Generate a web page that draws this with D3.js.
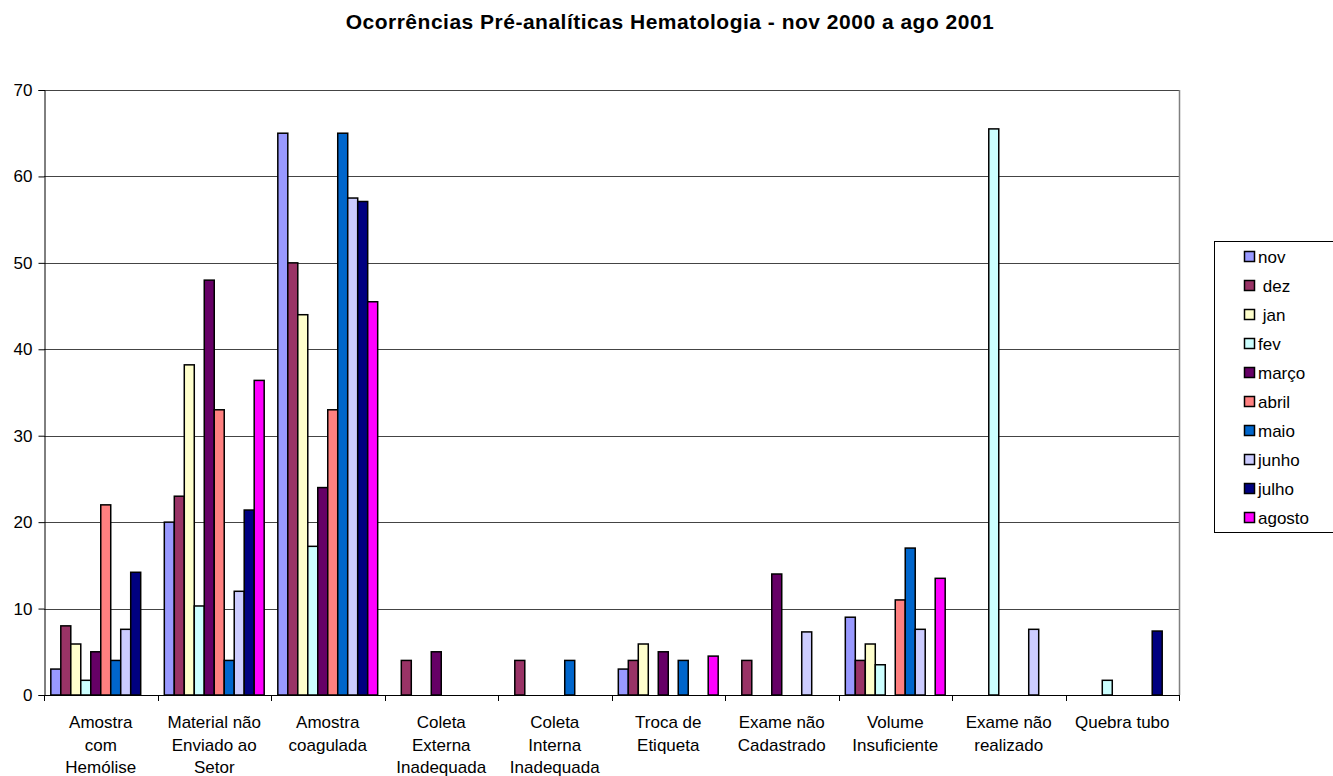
<!DOCTYPE html>
<html>
<head>
<meta charset="utf-8">
<script src="https://cdn.jsdelivr.net/npm/d3@7"></script>
<style>
  html, body { margin: 0; padding: 0; background: #fff; }
  svg text { font-family: "Liberation Sans", Arial, sans-serif; }
</style>
</head>
<body>
<svg id="chart" width="1333" height="776"></svg>
<script>
// Occurrence categories (x axis), one label line per array entry
const categories = [
  ["Amostra", "com", "Hemólise"],
  ["Material não", "Enviado ao", "Setor"],
  ["Amostra", "coagulada"],
  ["Coleta", "Externa", "Inadequada"],
  ["Coleta", "Interna", "Inadequada"],
  ["Troca de", "Etiqueta"],
  ["Exame não", "Cadastrado"],
  ["Volume", "Insuficiente"],
  ["Exame não", "realizado"],
  ["Quebra tubo"]
];

// Month series names as shown in the legend
const months = ["nov", " dez", " jan", "fev", "março", "abril", "maio", "junho", "julho", "agosto"];

// Values per month, one entry per category (0 = no occurrence)
const nov    = [3,    20,   65,   0, 0, 3,   0,   9,   0,    0];
const dez    = [8,    23,   50,   4, 4, 4,   4,   4,   0,    0];
const jan    = [5.9,  38.2, 44,   0, 0, 5.9, 0,   5.9, 0,    0];
const fev    = [1.7,  10.3, 17.2, 0, 0, 0,   0,   3.5, 65.5, 1.7];
const marco  = [5,    48,   24,   5, 0, 5,   14,  0,   0,    0];
const abril  = [22,   33,   33,   0, 0, 0,   0,   11,  0,    0];
const maio   = [4,    4,    65,   0, 4, 4,   0,   17,  0,    0];
const junho  = [7.6,  12,   57.5, 0, 0, 0,   7.3, 7.6, 7.6,  0];
const julho  = [14.2, 21.4, 57.1, 0, 0, 0,   0,   0,   0,    7.4];
const agosto = [0,    36.4, 45.5, 0, 0, 4.5, 0,   13.5, 0,   0];

const seriesValues = [nov, dez, jan, fev, marco, abril, maio, junho, julho, agosto];

const colors = ["#9999FF", "#993366", "#FFFFCC", "#CCFFFF", "#660066",
                "#FF8080", "#0066CC", "#CCCCFF", "#000080", "#FF00FF"];

const yTicks = [0, 10, 20, 30, 40, 50, 60, 70];

const title = "Ocorrências Pré-analíticas Hematologia - nov 2000 a ago 2001";

// Layout
const plot = { left: 44, right: 1179, top: 90, bottom: 695 };
const svg = d3.select("#chart");

const x0 = d3.scaleBand()
  .domain(d3.range(categories.length))
  .range([plot.left, plot.right])
  .paddingInner(0).paddingOuter(0);

const bw = x0.bandwidth();
const x1 = d3.scaleBand()
  .domain(d3.range(months.length))
  .range([bw * 0.06, bw * 0.94])
  .padding(0);

const y = d3.scaleLinear().domain([0, 70]).range([plot.bottom, plot.top]);

// Title
svg.append("text")
  .attr("x", 670).attr("y", 29)
  .attr("text-anchor", "middle")
  .attr("font-size", 21).attr("font-weight", "bold")
  .attr("letter-spacing", 0.5)
  .text(title);

// Horizontal grid lines
svg.append("g")
  .selectAll("line")
  .data(yTicks.filter(t => t > 0))
  .join("line")
  .attr("x1", plot.left).attr("x2", plot.right)
  .attr("y1", d => Math.round(y(d)) + 0.5).attr("y2", d => Math.round(y(d)) + 0.5)
  .attr("stroke", "#444").attr("stroke-width", 1);

// Right border of plot area
svg.append("line")
  .attr("x1", plot.right + 0.5).attr("x2", plot.right + 0.5)
  .attr("y1", plot.top).attr("y2", plot.bottom)
  .attr("stroke", "#808080").attr("stroke-width", 1.5);

// Bars
const bars = [];
seriesValues.forEach((vals, s) => {
  vals.forEach((v, c) => {
    if (v > 0) bars.push({ s, c, v });
  });
});

svg.append("g")
  .selectAll("rect")
  .data(bars)
  .join("rect")
  .attr("x", d => x0(d.c) + x1(d.s))
  .attr("y", d => y(d.v))
  .attr("width", x1.bandwidth())
  .attr("height", d => y(0) - y(d.v))
  .attr("fill", d => colors[d.s])
  .attr("stroke", "#000")
  .attr("stroke-width", 1.5);

// Y axis
const yAxis = d3.axisLeft(y).tickValues(yTicks).tickSize(6).tickPadding(6).tickFormat(d3.format("d"));
const gy = svg.append("g")
  .attr("transform", `translate(${plot.left + 0.5},0)`)
  .call(yAxis);
gy.select(".domain").attr("stroke", "#000");
gy.selectAll(".tick line").attr("stroke", "#000");
gy.selectAll(".tick text")
  .attr("font-size", 17)
  .attr("font-family", "'Liberation Sans', Arial, sans-serif")
  .attr("fill", "#000");

// X axis line with tick marks at category boundaries
svg.append("line")
  .attr("x1", plot.left).attr("x2", plot.right + 1)
  .attr("y1", plot.bottom + 0.5).attr("y2", plot.bottom + 0.5)
  .attr("stroke", "#000").attr("stroke-width", 1);

const boundaries = d3.range(categories.length + 1).map(i => plot.left + i * bw);
svg.append("g")
  .selectAll("line")
  .data(boundaries)
  .join("line")
  .attr("x1", d => Math.round(d) + 0.5).attr("x2", d => Math.round(d) + 0.5)
  .attr("y1", plot.bottom).attr("y2", plot.bottom + 6)
  .attr("stroke", "#000");

// Category labels
const labels = svg.append("g")
  .selectAll("text")
  .data(categories)
  .join("text")
  .attr("text-anchor", "middle")
  .attr("font-size", 17)
  .attr("x", (d, i) => x0(i) + bw / 2)
  .attr("y", 728);
labels.selectAll("tspan")
  .data(d => d)
  .join("tspan")
  .attr("x", function () { return d3.select(this.parentNode).attr("x"); })
  .attr("dy", (d, i) => i === 0 ? 0 : 22.5)
  .text(d => d);

// Legend
const legend = svg.append("g");
legend.append("rect")
  .attr("x", 1214.5).attr("y", 241.5)
  .attr("width", 130).attr("height", 291)
  .attr("fill", "#fff").attr("stroke", "#000").attr("stroke-width", 1);

const rows = legend.selectAll("g.item")
  .data(months)
  .join("g")
  .attr("class", "item")
  .attr("transform", (d, i) => `translate(0,${257 + i * 29})`);
rows.append("rect")
  .attr("x", 1244.5).attr("y", -5.5)
  .attr("width", 10).attr("height", 10)
  .attr("fill", (d, i) => colors[i])
  .attr("stroke", "#000").attr("stroke-width", 1.5);
rows.append("text")
  .attr("x", 1258).attr("y", 6)
  .attr("font-size", 17)
  .attr("xml:space", "preserve")
  .style("white-space", "pre")
  .text(d => d);
</script>
</body>
</html>
